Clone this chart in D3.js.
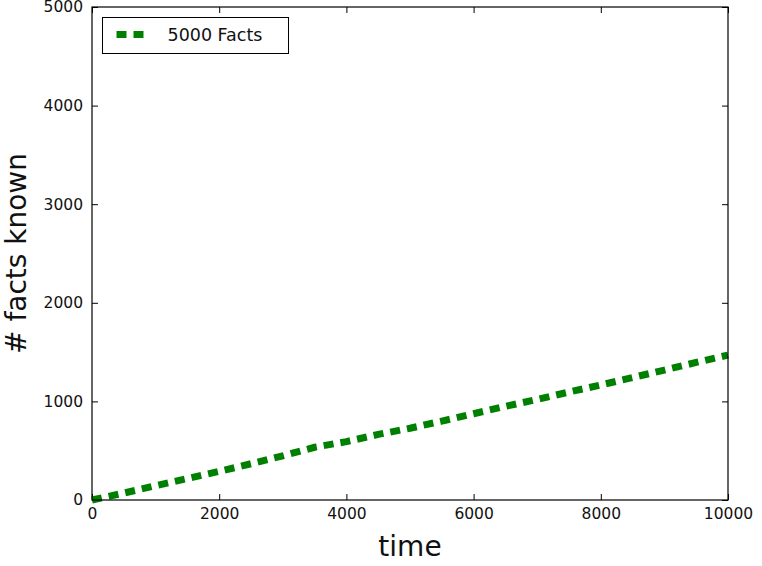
<!DOCTYPE html>
<html>
<head>
<meta charset="utf-8">
<script src="https://cdn.jsdelivr.net/npm/d3@7"></script>
<style>
  body { margin: 0; background: #fff; }
  svg { display: block; font-family: "DejaVu Sans", sans-serif; }
</style>
</head>
<body>
<svg id="chart" width="762" height="566"></svg>
<script>
// Time steps and the number of facts known at each step
const times = [0, 500, 1000, 1500, 2000, 2500, 3000, 3500, 4000, 4500, 5000,
               5500, 6000, 6500, 7000, 7500, 8000, 8500, 9000, 9500, 10000];
const factsKnown = [0, 70, 145, 218, 290, 368, 448, 535, 592, 665, 728,
                    800, 875, 950, 1020, 1095, 1167, 1242, 1318, 1395, 1470];
const seriesName = "5000 Facts";
const xTicks = [0, 2000, 4000, 6000, 8000, 10000];
const yTicks = [0, 1000, 2000, 3000, 4000, 5000];

const svg = d3.select("#chart");
const m = { left: 92, right: 34, top: 7, bottom: 66 };
const W = 762, H = 566;
const iw = W - m.left - m.right, ih = H - m.top - m.bottom;

const x = d3.scaleLinear().domain([0, 10000]).range([0, iw]);
const y = d3.scaleLinear().domain([0, 5000]).range([ih, 0]);

const g = svg.append("g").attr("transform", `translate(${m.left},${m.top})`);

// Inward ticks on all four sides
const tickLen = 6;
const axBottom = g.append("g").attr("transform", `translate(0,${ih})`)
  .call(d3.axisBottom(x).tickValues(xTicks).tickSizeInner(-tickLen).tickSizeOuter(0).tickPadding(8).tickFormat(d3.format("d")));
const axTop = g.append("g")
  .call(d3.axisTop(x).tickValues(xTicks).tickSizeInner(-tickLen).tickSizeOuter(0).tickFormat(""));
const axLeft = g.append("g")
  .call(d3.axisLeft(y).tickValues(yTicks).tickSizeInner(-tickLen).tickSizeOuter(0).tickPadding(9).tickFormat(d3.format("d")));
const axRight = g.append("g").attr("transform", `translate(${iw},0)`)
  .call(d3.axisRight(y).tickValues(yTicks).tickSizeInner(-tickLen).tickSizeOuter(0).tickFormat(""));

[axBottom, axTop, axLeft, axRight].forEach(a => {
  a.select(".domain").remove();
  a.selectAll(".tick line").attr("stroke", "#000").attr("stroke-width", 1);
  a.selectAll(".tick text").attr("fill", "#111").style("font-size", "15.5px")
    .style("font-family", "'DejaVu Sans', sans-serif");
});

// Data line
const line = d3.line().x((d, i) => x(times[i])).y(d => y(d));
g.append("path")
  .datum(factsKnown)
  .attr("d", line)
  .attr("fill", "none")
  .attr("stroke", "#008000")
  .attr("stroke-width", 7)
  .attr("stroke-dasharray", "10,7");

// Frame
g.append("rect")
  .attr("x", 0).attr("y", 0).attr("width", iw).attr("height", ih)
  .attr("fill", "none").attr("stroke", "#000").attr("stroke-width", 1.2);

// Legend
const lg = svg.append("g").attr("transform", "translate(102.5,17.5)");
lg.append("rect").attr("width", 186).attr("height", 36)
  .attr("fill", "#fff").attr("stroke", "#000").attr("stroke-width", 1);
lg.append("line")
  .attr("x1", 14).attr("x2", 42).attr("y1", 17).attr("y2", 17)
  .attr("stroke", "#008000").attr("stroke-width", 7)
  .attr("stroke-dasharray", "10,7");
lg.append("text").attr("x", 65).attr("y", 17).attr("dy", "0.35em")
  .style("font-size", "17.5px").attr("fill", "#111").text(seriesName);

// Axis titles
svg.append("text")
  .attr("x", m.left + iw / 2).attr("y", 556)
  .attr("text-anchor", "middle")
  .style("font-size", "28px").attr("fill", "#111")
  .text("time");
svg.append("text")
  .attr("transform", `translate(26,${m.top + ih / 2}) rotate(-90)`)
  .attr("text-anchor", "middle")
  .style("font-size", "28px").attr("fill", "#111")
  .text("# facts known");
</script>
</body>
</html>
